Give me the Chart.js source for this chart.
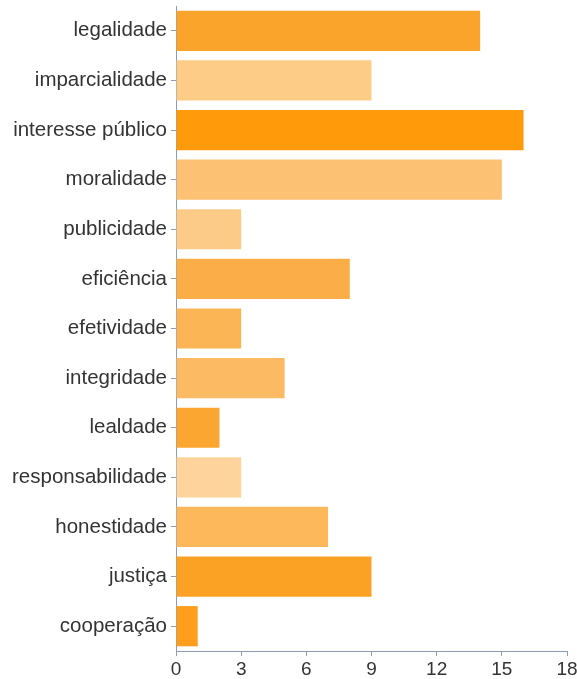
<!DOCTYPE html>
<html>
<head>
<meta charset="utf-8">
<script src="https://cdn.jsdelivr.net/npm/chart.js@4"></script>
<style>
  html, body { margin: 0; padding: 0; background: #fff; }
  #wrap { width: 577px; height: 679px; }
</style>
</head>
<body>
<div id="wrap"><canvas id="chart" width="577" height="679"></canvas></div>
<script>
// categories and counts
const categories = ['legalidade', 'imparcialidade', 'interesse público', 'moralidade', 'publicidade',
  'eficiência', 'efetividade', 'integridade', 'lealdade', 'responsabilidade', 'honestidade',
  'justiça', 'cooperação'];
const counts = [14, 9, 16, 15, 3, 8, 3, 5, 2, 3, 7, 9, 1];
const barColors = ['#FBA42C', '#FDCC87', '#FF9B0A', '#FDC174', '#FDCB88', '#FBAE48', '#FCB555',
  '#FCBB62', '#FBA630', '#FED39C', '#FCB85A', '#FBA124', '#FE9E1C'];
const xTicks = [0, 3, 6, 9, 12, 15, 18];

const ctx = document.getElementById('chart');
new Chart(ctx, {
  type: 'bar',
  data: {
    labels: categories,
    datasets: [{
      data: counts,
      backgroundColor: barColors,
      borderWidth: 0,
      categoryPercentage: 0.81,
      barPercentage: 1
    }]
  },
  options: {
    indexAxis: 'y',
    responsive: false,
    animation: false,
    layout: { padding: { top: 6, right: 10, left: 0, bottom: 0 } },
    plugins: { legend: { display: false }, tooltip: { enabled: false } },
    scales: {
      x: {
        min: 0, max: 18,
        afterBuildTicks: s => { s.ticks = xTicks.map(v => ({ value: v })); },
        afterFit: s => { s.height = 28; s.paddingLeft = 0; s.paddingRight = 0; },
        grid: { drawOnChartArea: false, drawTicks: true, tickLength: 5, color: '#8d9db5' },
        border: { color: '#8d9db5' },
        ticks: { color: '#333', padding: 2, font: { family: 'Liberation Sans', size: 19 } }
      },
      y: {
        afterFit: s => { s.width = 176; s.paddingTop = 0; s.paddingBottom = 0; },
        grid: { offset: false, drawOnChartArea: false, drawTicks: true, tickLength: 5, color: '#8d9db5' },
        border: { color: '#8d9db5' },
        ticks: { color: '#333', padding: 4, font: { family: 'Liberation Sans', size: 20.5 } }
      }
    }
  }
});
</script>
</body>
</html>
